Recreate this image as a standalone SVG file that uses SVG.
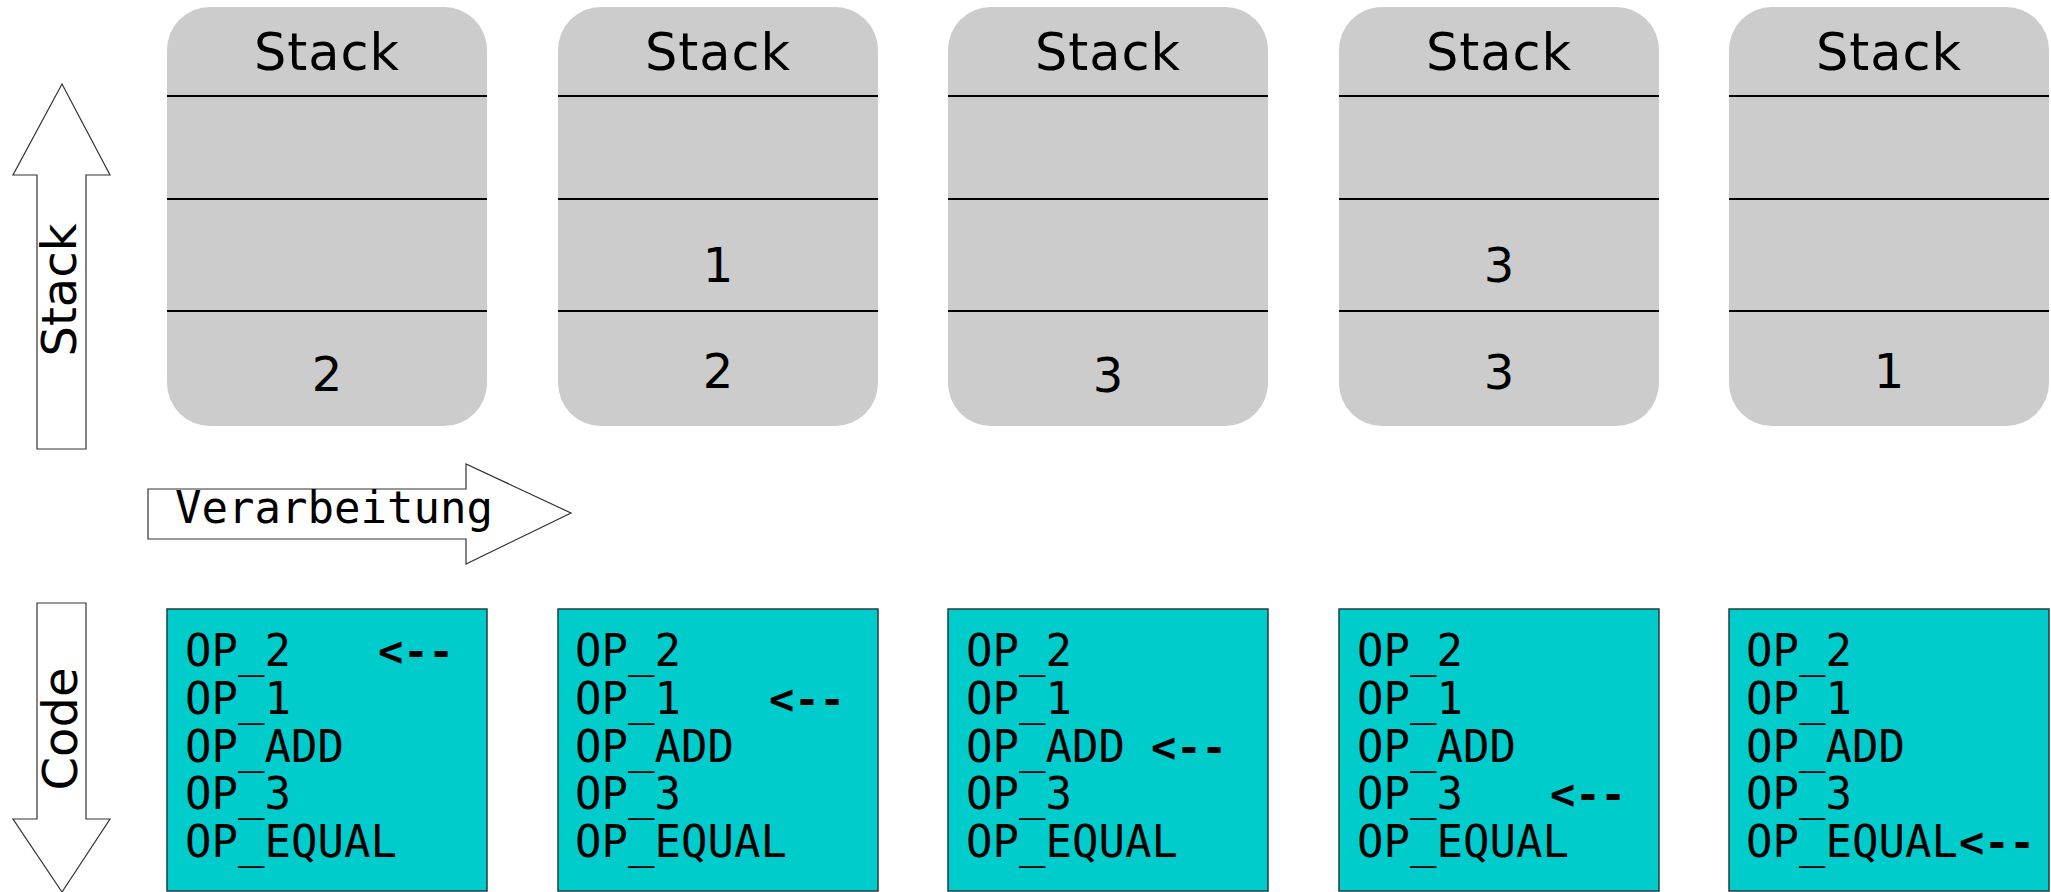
<svg xmlns="http://www.w3.org/2000/svg" width="2051" height="892" viewBox="0 0 2051 892">
<style>
.sbox{fill:#cccccc;stroke:none}
.sline{stroke:#000;stroke-width:2.2}
.title{font-family:"DejaVu Sans",sans-serif;font-size:51px;letter-spacing:1px;fill:#000;text-anchor:middle}
.val{font-family:"DejaVu Sans",sans-serif;font-size:48px;fill:#000;text-anchor:middle}
.cbox{fill:#00cccc;stroke:#1f3f3f;stroke-width:1.5}
.code{font-family:"DejaVu Sans Mono",monospace;font-size:44px;fill:#000}
.ptr{font-family:"DejaVu Sans Mono",monospace;font-size:42px;font-weight:bold;fill:#000}
.arrow{fill:#fff;stroke:#333;stroke-width:1.2}
.lbl{font-family:"DejaVu Sans",sans-serif;font-size:48px;fill:#000;text-anchor:middle}
.vlbl{font-family:"DejaVu Sans Mono",monospace;font-size:44px;fill:#000}
</style>
<defs>
<g id="stackshape">
<rect class="sbox" x="0" y="0" width="320" height="419" rx="43" ry="43"/>
<line class="sline" x1="0" y1="89" x2="320" y2="89"/>
<line class="sline" x1="0" y1="192" x2="320" y2="192"/>
<line class="sline" x1="0" y1="304" x2="320" y2="304"/>
<text class="title" x="160" y="63">Stack</text>
</g>
</defs>

<g id="connectors">
<g id="arrow-stack">
<polygon class="arrow" points="62,84 110,175 86,175 86,449 37,449 37,175 13,175"/>
<text class="lbl" transform="translate(76,290) rotate(-90)">Stack</text>
</g>
<g id="arrow-verarbeitung">
<polygon class="arrow" points="148,489 466,489 466,464 571,513 466,564 466,539 148,539"/>
<text class="vlbl" x="175" y="523">Verarbeitung</text>
</g>
<g id="arrow-code">
<polygon class="arrow" points="37,603 86,603 86,819 110,819 62,892 13,819 37,819"/>
<text class="lbl" transform="translate(77,729) rotate(-90)">Code</text>
</g>
</g>

<g id="stack1" transform="translate(167,7)">
<use href="#stackshape"/>
<text class="val" x="160" y="384">2</text>
</g>
<g id="stack2" transform="translate(558,7)">
<use href="#stackshape"/>
<text class="val" x="160" y="275">1</text>
<text class="val" x="160" y="381">2</text>
</g>
<g id="stack3" transform="translate(948,7)">
<use href="#stackshape"/>
<text class="val" x="160" y="385">3</text>
</g>
<g id="stack4" transform="translate(1339,7)">
<use href="#stackshape"/>
<text class="val" x="160" y="275">3</text>
<text class="val" x="160" y="382">3</text>
</g>
<g id="stack5" transform="translate(1729,7)">
<use href="#stackshape"/>
<text class="val" x="160" y="381">1</text>
</g>

<g id="code1">
<rect class="cbox" x="167" y="609" width="320" height="282"/>
<text class="code" x="185" y="666">OP_2</text>
<text class="code" x="185" y="714">OP_1</text>
<text class="code" x="185" y="762">OP_ADD</text>
<text class="code" x="185" y="809">OP_3</text>
<text class="code" x="185" y="857">OP_EQUAL</text>
<text class="ptr" x="378" y="666">&lt;--</text>
</g>
<g id="code2">
<rect class="cbox" x="558" y="609" width="320" height="282"/>
<text class="code" x="575" y="666">OP_2</text>
<text class="code" x="575" y="714">OP_1</text>
<text class="code" x="575" y="762">OP_ADD</text>
<text class="code" x="575" y="809">OP_3</text>
<text class="code" x="575" y="857">OP_EQUAL</text>
<text class="ptr" x="769" y="714">&lt;--</text>
</g>
<g id="code3">
<rect class="cbox" x="948" y="609" width="320" height="282"/>
<text class="code" x="966" y="666">OP_2</text>
<text class="code" x="966" y="714">OP_1</text>
<text class="code" x="966" y="762">OP_ADD</text>
<text class="code" x="966" y="809">OP_3</text>
<text class="code" x="966" y="857">OP_EQUAL</text>
<text class="ptr" x="1151" y="762">&lt;--</text>
</g>
<g id="code4">
<rect class="cbox" x="1339" y="609" width="320" height="282"/>
<text class="code" x="1357" y="666">OP_2</text>
<text class="code" x="1357" y="714">OP_1</text>
<text class="code" x="1357" y="762">OP_ADD</text>
<text class="code" x="1357" y="809">OP_3</text>
<text class="code" x="1357" y="857">OP_EQUAL</text>
<text class="ptr" x="1550" y="809">&lt;--</text>
</g>
<g id="code5">
<rect class="cbox" x="1729" y="609" width="320" height="282"/>
<text class="code" x="1746" y="666">OP_2</text>
<text class="code" x="1746" y="714">OP_1</text>
<text class="code" x="1746" y="762">OP_ADD</text>
<text class="code" x="1746" y="809">OP_3</text>
<text class="code" x="1746" y="857">OP_EQUAL</text>
<text class="ptr" x="1959" y="857">&lt;--</text>
</g>
</svg>
